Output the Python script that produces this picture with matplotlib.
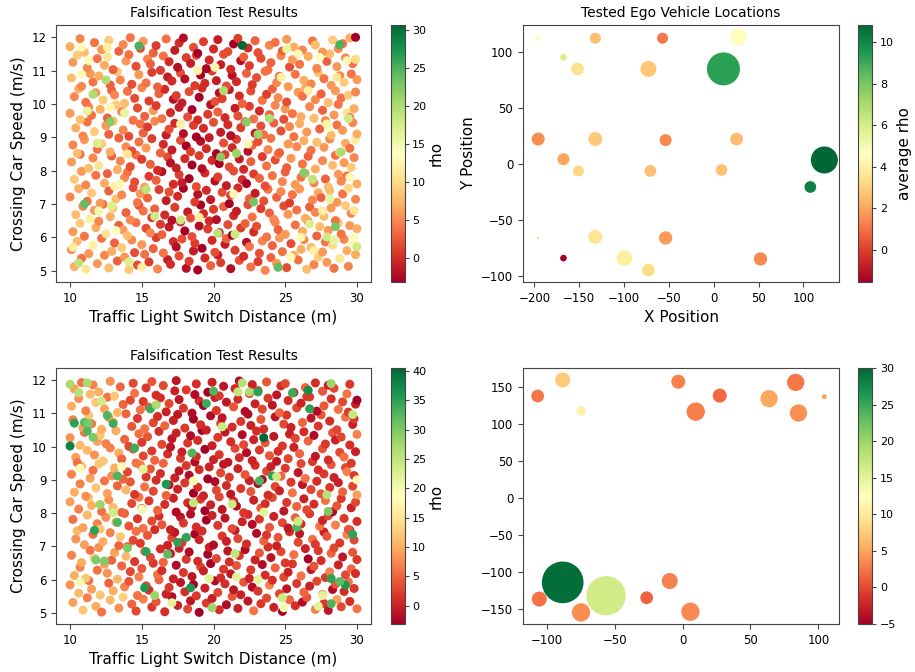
import numpy as np
import matplotlib
matplotlib.use("Agg")
import matplotlib.pyplot as plt

# ---- top left: falsification samples (x in 0.1 m, y in 0.01 m/s) ----
tl_x = [
    103, 108, 111, 119, 124, 127, 133, 138, 141, 147, 152, 155, 161, 168, 170, 176, 181, 183, 189, 194, 198, 203, 205, 212, 218, 221, 226, 231, 236, 240, 244, 251, 256, 259, 265, 270, 273, 279, 284, 288, 294, 299,
    101, 105, 113, 116, 122, 129, 131, 136, 143, 145, 150, 158, 160, 165, 172, 174, 178, 186, 187, 192, 199, 201, 208, 209, 215, 223, 225, 232, 234, 241, 246, 248, 254, 261, 263, 268, 276, 278, 283, 291, 293, 297,
    102, 107, 110, 118, 120, 125, 134, 137, 140, 146, 153, 156, 163, 164, 169, 177, 180, 185, 190, 196, 197, 204, 210, 213, 219, 222, 228, 230, 237, 243, 245, 250, 257, 262, 266, 272, 274, 280, 287, 289, 295, 300,
    104, 109, 114, 117, 123, 128, 130, 139, 142, 148, 151, 157, 159, 166, 171, 173, 182, 184, 191, 193, 200, 202, 207, 214, 216, 224, 227, 233, 239, 242, 249, 252, 258, 264, 267, 271, 277, 282, 285, 292, 296, 298,
    100, 106, 112, 115, 121, 127, 132, 136, 144, 147, 149, 154, 162, 167, 169, 175, 179, 187, 189, 195, 198, 206, 211, 212, 217, 225, 229, 235, 238, 244, 247, 253, 255, 260, 269, 273, 275, 281, 286, 290, 294, 299,
    103, 108, 111, 118, 124, 126, 131, 138, 140, 145, 152, 155, 160, 164, 172, 176, 178, 183, 188, 194, 201, 203, 209, 214, 220, 223, 228, 232, 236, 241, 248, 250, 257, 261, 264, 270, 278, 280, 287, 289, 293, 300,
    101, 107, 113, 116, 120, 129, 133, 135, 142, 146, 150, 156, 161, 168, 170, 174, 180, 185, 190, 192, 199, 204, 208, 211, 218, 221, 226, 234, 237, 243, 245, 251, 254, 262, 266, 271, 276, 283, 285, 291, 296, 298,
    102, 105, 110, 119, 122, 128, 134, 139, 143, 148, 153, 157, 163, 165, 171, 177, 181, 184, 191, 195, 197, 202, 207, 213, 216, 224, 227, 231, 238, 240, 246, 252, 258, 263, 268, 272, 277, 281, 288, 292, 295, 299,
    104, 109, 112, 117, 125, 127, 130, 137, 141, 149, 151, 154, 159, 167, 169, 173, 179, 186, 188, 193, 200, 205, 210, 212, 219, 222, 229, 233, 235, 242, 247, 253, 256, 260, 265, 274, 278, 282, 286, 290, 297, 300,
    100, 107, 113, 115, 121, 126, 132, 136, 144, 147, 152, 158, 160, 164, 170, 176, 182, 185, 189, 196, 198, 203, 208, 215, 217, 225, 228, 232, 239, 243, 249, 250, 255, 261, 267, 270, 276, 284, 287, 293, 295, 298,
    103, 106, 111, 118, 123, 129, 131, 138, 140, 145, 150, 155, 162, 166, 172, 174, 178, 183, 190, 192, 201, 204, 206, 211, 218, 220, 226, 234, 237, 241, 245, 251, 259, 262, 264, 271, 275, 280, 285, 289, 294, 299,
    101, 108, 114, 116, 120, 128, 133, 135, 143, 148, 153, 157, 161, 168, 171, 177, 180, 187, 191, 194, 199, 202, 209, 213, 216, 223, 227, 230, 236, 244, 246, 252, 257, 263, 268, 273, 277, 282, 288, 291, 296, 300,
    102, 105, 112, 119, 124, 126, 130, 139, 141, 146, 154, 156, 163, 165, 169, 175, 181, 184, 188, 195, 197, 205, 207, 212, 219, 221, 225, 233, 238, 240, 247, 253, 255, 260, 266, 272, 279, 281, 286, 292, 297, 299,
    100, 107, 110, 117, 122, 127, 134, 137, 142, 149, 151, 158, 160, 167, 173, 176, 179, 186, 189, 193, 200, 203, 210, 214, 217, 224, 229, 231, 239, 243, 248, 251, 256, 262, 269, 271, 276, 283, 287, 290, 295, 299,
    102, 108, 113, 126, 132, 135, 140, 150, 189, 259, 266, 274, 286, 293, 280, 261, 276, 298, 254, 214, 190, 224, 247, 177, 108, 128, 295, 270,
    148, 220, 288, 125, 116, 207, 128, 223, 239, 231, 216, 205, 289, 294, 269, 112, 110, 153, 228, 263, 281, 177, 159, 203, 215, 267, 285, 279, 284, 245, 141, 106, 129, 120, 251, 300, 138, 119, 201, 279,
]
tl_y = [
    512, 537, 504, 521, 546, 508, 529, 541, 503, 517, 549, 526, 505, 533, 519, 544, 507, 528, 502, 538, 515, 547, 524, 506, 531, 543, 511, 527, 501, 539, 522, 509, 546, 532, 504, 518, 541, 525, 507, 536, 513, 548,
    563, 588, 551, 576, 597, 558, 583, 569, 592, 554, 578, 566, 599, 553, 587, 571, 595, 559, 582, 567, 591, 555, 579, 596, 561, 585, 572, 552, 589, 575, 598, 557, 581, 564, 593, 570, 556, 586, 577, 594, 560, 584,
    617, 642, 603, 629, 648, 611, 636, 622, 605, 644, 627, 613, 639, 608, 631, 646, 619, 602, 634, 625, 649, 614, 638, 606, 628, 641, 616, 633, 601, 645, 623, 609, 637, 618, 647, 604, 632, 621, 643, 610, 635, 626,
    668, 693, 655, 681, 699, 662, 687, 674, 652, 696, 679, 659, 685, 667, 651, 690, 676, 658, 697, 671, 684, 653, 692, 665, 678, 698, 661, 686, 673, 654, 694, 669, 682, 657, 691, 675, 663, 688, 650, 695, 672, 680,
    721, 746, 708, 733, 702, 739, 715, 727, 749, 704, 731, 718, 743, 710, 736, 723, 747, 706, 729, 741, 713, 735, 701, 726, 748, 716, 732, 709, 744, 720, 737, 703, 728, 745, 712, 734, 719, 740, 705, 730, 747, 714,
    774, 798, 757, 786, 762, 791, 753, 779, 795, 766, 750, 783, 771, 797, 759, 788, 764, 776, 752, 793, 769, 781, 755, 799, 773, 761, 790, 777, 754, 785, 767, 796, 758, 780, 792, 763, 775, 751, 789, 768, 784, 760,
    826, 849, 807, 838, 815, 844, 803, 829, 812, 847, 834, 819, 801, 841, 823, 808, 836, 817, 845, 806, 831, 821, 848, 811, 835, 804, 827, 842, 814, 832, 849, 809, 837, 820, 843, 805, 830, 816, 846, 824, 810, 839,
    877, 852, 893, 864, 881, 856, 898, 871, 859, 886, 868, 896, 853, 879, 862, 891, 874, 857, 888, 866, 899, 851, 883, 869, 894, 858, 876, 887, 863, 897, 854, 880, 872, 890, 861, 885, 870, 895, 855, 882, 867, 892,
    928, 904, 946, 917, 935, 909, 949, 922, 903, 940, 913, 931, 948, 907, 924, 942, 911, 936, 901, 927, 945, 915, 938, 905, 929, 947, 912, 934, 908, 943, 919, 932, 902, 941, 916, 925, 950, 906, 937, 921, 944, 910,
    972, 953, 991, 966, 984, 958, 997, 977, 951, 988, 963, 980, 995, 956, 974, 990, 961, 983, 952, 969, 998, 976, 959, 987, 964, 993, 955, 979, 968, 996, 954, 985, 971, 962, 992, 957, 981, 967, 999, 973, 960, 986,
    1022, 1046, 1005, 1034, 1012, 1041, 1027, 1002, 1038, 1017, 1049, 1009, 1031, 1044, 1014, 1025, 1003, 1037, 1020, 1048, 1007, 1033, 1016, 1043, 1024, 1001, 1039, 1011, 1029, 1045, 1019, 1006, 1035, 1023, 1047, 1013, 1030, 1004, 1040, 1018, 1026, 1036,
    1078, 1053, 1091, 1066, 1084, 1057, 1097, 1072, 1059, 1088, 1063, 1095, 1051, 1081, 1069, 1093, 1075, 1055, 1087, 1062, 1099, 1070, 1054, 1086, 1067, 1092, 1058, 1079, 1098, 1064, 1083, 1052, 1089, 1071, 1060, 1094, 1076, 1056, 1085, 1065, 1090, 1073,
    1125, 1147, 1108, 1136, 1116, 1142, 1103, 1129, 1148, 1113, 1135, 1120, 1101, 1144, 1127, 1110, 1139, 1122, 1146, 1106, 1132, 1118, 1149, 1104, 1130, 1141, 1115, 1137, 1102, 1124, 1145, 1111, 1133, 1119, 1143, 1107, 1128, 1150, 1112, 1138, 1121, 1134,
    1172, 1196, 1155, 1184, 1163, 1191, 1158, 1178, 1199, 1167, 1188, 1153, 1175, 1195, 1161, 1183, 1198, 1170, 1152, 1187, 1165, 1193, 1157, 1180, 1197, 1168, 1190, 1154, 1176, 1185, 1159, 1194, 1171, 1162, 1189, 1177, 1156, 1192, 1166, 1181, 1198, 1200,
    570, 1090, 1130, 1170, 620, 760, 850, 510, 1100, 1150, 1040, 1140, 1080, 1130, 930, 600, 680, 600, 540, 730, 660, 880, 1080, 940, 1170, 990, 780, 560,
    1174, 1176, 1178, 1072, 1029, 1040, 947, 946, 957, 909, 852, 841, 856, 956, 774, 979, 700, 744, 706, 794, 715, 652, 663, 612, 609, 640, 632, 601, 591, 510, 526, 523, 695, 679, 1165, 572, 973, 882, 1110, 940,
]
tl_rho = [
    7, 4, 11, 6, 5, 8, 3, 6, 9, 2, 4, 1, 5, -1, 0, 2, -2, 1, -3, 0, 3, -1, 1, -2, 2, 0, 4, 1, 5, 3, 6, 2, 7, 4, 8, 5, 9, 6, 4, 11, 5, 7,
    5, 8, 6, 12, 4, 7, 3, 9, 5, 2, 6, 3, 1, 4, 0, -2, 2, -1, 1, -3, 0, 2, -1, 3, 1, -2, 4, 2, 5, 3, 6, 4, 2, 7, 5, 8, 6, 4, 10, 5, 7, 13,
    6, 9, 4, 7, 5, 11, 3, 6, 8, 4, 2, 5, 1, 3, -1, 0, -3, 2, -2, 1, 0, -1, 2, -3, 1, 3, 0, 2, 4, 5, 3, 6, 4, 7, 5, 3, 8, 6, 9, 4, 6, 7,
    8, 5, 12, 6, 4, 7, 9, 3, 5, 2, 4, 1, 3, 0, -2, 1, -1, 2, -3, 0, 1, -2, 3, 0, -1, 2, 4, 1, 3, 5, 2, 6, 4, 7, 3, 5, 8, 6, 4, 9, 5, 11,
    5, 7, 4, 9, 6, 3, 8, 5, 2, 4, 6, 3, 1, -1, 2, 0, -3, 1, -2, 0, -1, 2, -3, 1, 0, 3, -1, 2, 4, 3, 5, 1, 4, 6, 5, 7, 3, 8, 6, 4, 10, 5,
    9, 6, 5, 4, 7, 3, 12, 5, 4, 2, 6, 1, 3, -2, 0, 1, -1, -3, 2, 0, -2, 1, -1, 2, 0, -3, 1, 3, 2, 4, 5, 3, 6, 4, 7, 5, 3, 8, 6, 5, 4, 7,
    6, 4, 8, 5, 11, 3, 7, 5, 2, 4, 1, 3, 0, 2, -2, -1, 0, -3, 1, -2, 0, -3, 1, 2, -1, 0, 3, 1, 4, 2, 5, 3, 6, 4, 3, 7, 5, 8, 4, 6, 9, 5,
    5, 8, 6, 4, 9, 7, 3, 5, 2, 4, 6, 1, 3, 0, -1, 2, -3, 1, -2, 0, -1, -3, 2, 0, 1, -2, 3, 2, 5, 4, 3, 6, 5, 7, 4, 8, 6, 5, 9, 7, 4, 12,
    7, 5, 4, 9, 6, 3, 8, 5, 2, 4, 3, 1, 5, -1, 2, 0, -2, 1, -3, 0, 2, -1, 0, -2, 1, 3, -1, 2, 4, 3, 2, 5, 4, 7, 6, 3, 5, 8, 4, 6, 5, 7,
    6, 8, 5, 4, 7, 3, 9, 5, 4, 2, 3, 6, 1, 4, 0, -1, 2, -3, 0, 1, -2, 3, 0, -1, 2, 1, 4, 0, 3, 5, 2, 6, 4, 7, 5, 8, 3, 6, 4, 11, 5, 7,
    5, 7, 4, 6, 9, 3, 5, 8, 4, 2, 5, 1, 3, 0, -2, 1, -1, 2, -3, 0, 2, -2, 1, -1, 0, 3, 2, 4, 1, 3, 5, 2, 6, 4, 7, 5, 3, 8, 6, 4, 9, 5,
    8, 5, 6, 4, 7, 3, 9, 5, 2, 6, 4, 1, 3, -1, 0, 2, -2, 1, -3, 0, 1, -1, 2, -2, 0, 3, 1, 2, 4, 5, 3, 6, 4, 7, 5, 8, 4, 6, 5, 9, 4, 6,
    6, 9, 5, 4, 7, 11, 3, 6, 4, 2, 5, 3, 1, 4, 0, -2, 1, -1, 2, -3, 0, -1, 2, 0, -2, 3, 1, 2, 4, 3, 5, 2, 6, 4, 7, 5, 3, 8, 6, 5, 4, 10,
    7, 5, 8, 4, 6, 9, 3, 5, 4, 2, 6, 3, 1, 4, -1, 0, -2, 2, -3, 1, 0, -1, 2, -3, 1, 0, 3, 2, 5, 4, 3, 6, 7, 5, 4, 8, 6, 9, 5, 4, 7, -3.1,
    12, 13, 13, 12, 14, 13, 11, 12, 12, 13, 12, 14, 11, 13, 14, 13, 12, 14, 13, 13, 12, 13, 12, 12, 13, 13, 13, 12,
    25, 30.7, 25, 20, 20, 20, 22, 22, 20, 21, 21, 22, 20, 18, 19, 16, 24, 19, 23, 22, 16, 18, 18, 19, 18, 17, 23, 18, 16, 24, 17, 19, 17, 15, 16, 18, 16, 17, 15, 15,
]

# ---- bottom left: second falsification run ----
bl_x = [
    102, 109, 112, 118, 122, 128, 134, 137, 143, 146, 151, 157, 160, 166, 171, 175, 182, 184, 190, 195, 199, 204, 209, 213, 217, 224, 228, 233, 237, 242, 248, 253, 257, 262, 265, 271, 277, 280, 286, 289, 295, 300,
    100, 106, 113, 115, 121, 127, 130, 138, 141, 147, 153, 155, 162, 167, 169, 177, 180, 186, 188, 194, 201, 203, 208, 214, 219, 221, 227, 231, 239, 241, 246, 251, 258, 263, 267, 272, 276, 283, 285, 291, 294, 298,
    103, 107, 111, 119, 124, 126, 133, 136, 142, 148, 150, 158, 161, 164, 172, 174, 179, 185, 191, 193, 198, 205, 207, 212, 216, 225, 226, 234, 236, 243, 249, 252, 255, 261, 268, 270, 278, 281, 287, 292, 296, 299,
    101, 108, 114, 117, 120, 129, 131, 139, 140, 145, 152, 156, 163, 165, 170, 176, 181, 183, 189, 196, 197, 202, 210, 211, 218, 222, 229, 232, 238, 240, 247, 250, 256, 264, 266, 273, 275, 282, 284, 290, 297, 300,
    104, 105, 110, 116, 123, 128, 134, 135, 144, 146, 149, 154, 159, 168, 171, 173, 178, 187, 190, 192, 200, 206, 209, 215, 217, 223, 230, 235, 237, 244, 245, 253, 259, 260, 269, 271, 277, 279, 288, 293, 295, 298,
    102, 109, 112, 119, 121, 125, 132, 138, 141, 147, 151, 157, 162, 164, 170, 177, 179, 184, 188, 195, 199, 203, 208, 213, 220, 224, 227, 232, 239, 242, 248, 252, 257, 261, 267, 274, 276, 280, 285, 291, 294, 300,
    100, 106, 113, 115, 122, 127, 130, 136, 143, 148, 150, 155, 161, 166, 172, 174, 182, 185, 191, 194, 198, 204, 206, 214, 216, 221, 228, 233, 236, 241, 249, 251, 258, 263, 265, 270, 278, 283, 286, 289, 296, 299,
    103, 107, 111, 118, 124, 126, 133, 139, 142, 145, 152, 158, 160, 167, 169, 175, 180, 186, 189, 193, 201, 202, 209, 212, 219, 225, 226, 231, 238, 243, 246, 254, 255, 262, 268, 272, 275, 281, 287, 290, 297, 300,
    101, 108, 114, 116, 120, 129, 131, 137, 140, 149, 153, 156, 163, 165, 173, 176, 181, 183, 190, 196, 197, 205, 207, 211, 217, 222, 229, 234, 237, 240, 247, 250, 259, 261, 264, 273, 277, 282, 284, 292, 293, 298,
    104, 105, 112, 117, 123, 128, 134, 136, 144, 146, 151, 157, 159, 168, 170, 177, 178, 187, 188, 194, 200, 204, 210, 215, 218, 223, 227, 232, 239, 244, 245, 252, 256, 260, 269, 271, 276, 280, 288, 291, 296, 299,
    100, 107, 110, 119, 121, 125, 132, 138, 141, 148, 150, 154, 162, 164, 171, 174, 182, 184, 189, 192, 199, 203, 208, 212, 220, 221, 228, 230, 236, 242, 248, 253, 257, 263, 266, 270, 278, 283, 285, 289, 295, 300,
    102, 109, 113, 115, 122, 127, 130, 139, 143, 147, 152, 158, 161, 166, 172, 175, 180, 186, 191, 195, 198, 205, 206, 213, 219, 224, 226, 233, 235, 243, 249, 251, 254, 262, 268, 273, 275, 281, 286, 292, 297, 298,
    101, 106, 111, 118, 124, 126, 133, 137, 142, 149, 151, 155, 163, 167, 169, 176, 179, 185, 190, 193, 201, 202, 209, 214, 217, 222, 229, 234, 238, 241, 246, 252, 258, 261, 267, 272, 277, 282, 287, 290, 294, 299,
    103, 108, 114, 116, 120, 128, 131, 135, 144, 145, 153, 157, 160, 165, 173, 174, 181, 187, 188, 196, 199, 204, 207, 215, 218, 225, 227, 231, 237, 244, 247, 250, 256, 264, 265, 271, 276, 280, 284, 293, 295, 300,
    100, 103, 110, 113, 112, 116, 100, 126, 130, 133, 133, 117, 152, 156, 145, 167, 175, 184, 181, 195, 200, 225, 231, 255, 266, 267, 235, 241, 232, 280, 297, 258, 282, 282, 292, 288, 168, 153, 140, 118, 124,
    185, 217, 297, 282, 220, 112, 106, 122, 160, 244, 259, 279, 235, 213, 186, 197, 216, 231, 249, 276, 273, 248, 199, 159, 171, 107, 121, 130, 136, 151, 186, 206, 107, 150, 215, 300,
]
bl_y = [
    531, 508, 545, 519, 502, 538, 514, 547, 526, 505, 541, 517, 533, 503, 548, 522, 511, 536, 501, 529, 543, 509, 524, 549, 513, 535, 506, 527, 544, 516, 504, 539, 521, 532, 546, 510, 528, 507, 540, 518, 534, 512,
    584, 559, 597, 571, 553, 589, 566, 578, 594, 552, 581, 568, 599, 556, 576, 591, 563, 585, 551, 574, 596, 561, 587, 569, 554, 592, 577, 565, 583, 598, 557, 572, 588, 562, 580, 595, 555, 570, 586, 564, 593, 573,
    612, 637, 604, 628, 646, 619, 601, 641, 624, 608, 633, 649, 615, 627, 602, 643, 621, 609, 638, 626, 648, 605, 631, 617, 642, 603, 629, 645, 613, 635, 607, 622, 647, 611, 630, 640, 606, 623, 644, 614, 632, 618,
    673, 651, 688, 664, 696, 658, 681, 670, 699, 654, 685, 667, 692, 652, 678, 694, 661, 683, 655, 676, 697, 663, 686, 653, 672, 690, 659, 680, 698, 666, 684, 650, 675, 693, 662, 687, 657, 679, 695, 668, 682, 660,
    722, 747, 705, 736, 714, 741, 702, 729, 718, 745, 709, 733, 750, 703, 726, 742, 711, 737, 720, 746, 704, 731, 715, 748, 723, 707, 739, 716, 734, 701, 727, 744, 712, 738, 721, 706, 743, 730, 710, 735, 749, 719,
    781, 756, 794, 768, 752, 787, 773, 799, 761, 783, 754, 776, 791, 765, 750, 788, 770, 797, 758, 779, 793, 763, 785, 753, 774, 796, 766, 782, 757, 790, 771, 755, 786, 767, 798, 760, 778, 792, 764, 784, 751, 775,
    834, 812, 846, 823, 805, 840, 817, 802, 829, 848, 814, 837, 808, 826, 845, 803, 831, 819, 842, 807, 825, 849, 811, 836, 821, 801, 839, 815, 828, 847, 806, 832, 820, 843, 810, 827, 838, 804, 822, 844, 816, 833,
    863, 888, 851, 876, 897, 859, 882, 870, 894, 856, 879, 866, 899, 853, 885, 872, 891, 860, 878, 852, 895, 869, 883, 857, 874, 898, 865, 889, 854, 880, 867, 893, 861, 886, 871, 896, 858, 877, 892, 864, 881, 855,
    917, 941, 905, 929, 948, 912, 936, 902, 924, 945, 909, 933, 919, 950, 906, 927, 943, 914, 931, 903, 939, 921, 947, 908, 934, 916, 944, 901, 926, 940, 911, 935, 922, 949, 904, 930, 918, 946, 907, 937, 925, 913,
    968, 952, 989, 975, 957, 996, 981, 963, 993, 951, 972, 987, 959, 978, 999, 965, 984, 954, 970, 992, 961, 976, 953, 995, 967, 982, 958, 990, 973, 956, 986, 964, 998, 979, 955, 971, 994, 960, 983, 969, 950, 985,
    1027, 1004, 1043, 1016, 1035, 1009, 1048, 1022, 1001, 1039, 1013, 1030, 1046, 1007, 1024, 1041, 1011, 1033, 1019, 1049, 1003, 1028, 1044, 1015, 1036, 1006, 1021, 1047, 1012, 1031, 1002, 1038, 1025, 1045, 1017, 1034, 1008, 1042, 1020, 1029, 1005, 1037,
    1081, 1057, 1094, 1069, 1052, 1088, 1075, 1099, 1061, 1085, 1054, 1072, 1091, 1063, 1079, 1097, 1056, 1083, 1066, 1050, 1093, 1070, 1087, 1059, 1076, 1098, 1064, 1082, 1053, 1090, 1068, 1095, 1058, 1073, 1086, 1062, 1096, 1077, 1051, 1089, 1067, 1084,
    1122, 1145, 1108, 1133, 1114, 1149, 1103, 1127, 1140, 1111, 1136, 1119, 1147, 1105, 1130, 1142, 1116, 1101, 1138, 1124, 1148, 1109, 1134, 1120, 1143, 1106, 1129, 1113, 1146, 1125, 1102, 1139, 1117, 1131, 1150, 1107, 1123, 1144, 1112, 1135, 1104, 1128,
    1174, 1193, 1158, 1186, 1165, 1197, 1152, 1180, 1191, 1161, 1177, 1196, 1155, 1184, 1168, 1199, 1171, 1157, 1189, 1164, 1194, 1153, 1182, 1175, 1198, 1160, 1187, 1169, 1195, 1156, 1183, 1190, 1163, 1178, 1151, 1192, 1167, 1185, 1176, 1159, 1188, 1140,
    1188, 1071, 1073, 1070, 1047, 1028, 1002, 1094, 1070, 912, 772, 748, 575, 1114, 996, 887, 712, 575, 727, 1130, 1167, 1165, 1165, 1162, 1170, 1114, 1027, 912, 897, 805, 736, 757, 527, 603, 583, 594, 676, 684, 695, 659, 656,
    981, 1165, 1097, 1190, 1192, 1192, 1163, 1137, 1126, 910, 775, 855, 803, 827, 831, 603, 608, 600, 515, 552, 520, 545, 515, 552, 530, 592, 826, 802, 940, 932, 897, 1060, 935, 812, 678, 900,
]
bl_rho = [
    9, 12, 7, 10, 6, 11, 8, 13, 5, 3, 7, 2, 4, 1, -2, 0, 3, -1, -3, 2, 0, 1, -2, 4, 0, -1, 6, 2, 3, 0, -3, 5, 1, -2, 4, 7, 2, -1, 9, 3, 1, 6,
    8, 11, 6, 9, 12, 5, 10, 7, 4, 6, 3, 1, 5, 0, 2, -1, 1, -3, 2, 0, -2, 3, 1, -1, 0, 4, -2, 2, 7, 1, 3, -1, 2, 5, 0, 3, 8, -2, 4, 1, 6, 2,
    10, 7, 12, 6, 9, 8, 11, 5, 3, 7, 4, 2, 6, 1, 0, -2, 2, -1, 3, 0, -3, 1, 2, -1, 4, 0, 2, -2, 1, 5, 3, 0, 2, 6, -1, 4, 2, 7, 0, 3, 5, 1,
    7, 10, 6, 12, 8, 5, 9, 11, 4, 2, 6, 3, 1, 5, -1, 0, 2, -2, 1, -3, 0, 3, -1, 1, 2, -2, 0, 4, 1, -1, 3, 2, 6, 0, -3, 2, 1, 5, 3, -1, 4, 2,
    8, 11, 9, 6, 10, 7, 5, 12, 3, 6, 2, 4, 1, 0, 3, -1, 2, -3, 0, 1, -2, 2, 0, -1, 3, 1, -2, 5, 2, 0, 4, 1, 3, -1, 6, 2, 0, 4, 2, 7, 1, 3,
    6, 9, 11, 7, 12, 8, 10, 5, 4, 2, 6, 3, 1, 4, 0, -1, 2, -2, 1, -3, 0, 2, -1, 3, 0, 1, -2, 2, 4, 0, 3, -1, 5, 1, 2, 6, 0, 3, 7, 2, 4, 1,
    9, 7, 12, 10, 6, 8, 11, 5, 3, 6, 4, 2, 5, 1, 0, -2, 1, -1, 2, -3, 0, 3, -1, 1, -2, 2, 0, 4, 1, 3, -1, 2, 5, 0, 3, 1, 6, -2, 4, 2, 0, 3,
    10, 7, 8, 12, 6, 9, 5, 11, 4, 2, 6, 3, 1, 5, -1, 0, 2, -3, 1, 0, -2, 3, 1, -1, 2, 0, 4, -2, 1, 3, 0, 2, 6, -1, 3, 1, 4, 2, 0, 5, 3, 9,
    7, 11, 9, 6, 12, 8, 10, 5, 3, 7, 2, 4, 1, 5, 0, -1, 2, -2, 1, -3, 0, 3, -1, 2, 0, 4, 1, -2, 3, 0, 5, 2, -1, 3, 6, 1, 2, 4, 0, 3, 7, 2,
    9, 6, 11, 8, 12, 7, 10, 5, 4, 6, 3, 2, 5, 1, -1, 2, 0, -2, 1, -3, 0, 2, -1, 3, 1, -2, 0, 2, 4, -1, 1, 3, 0, 5, 2, -1, 4, 1, 3, 6, 2, 0,
    8, 11, 6, 9, 12, 7, 10, 5, 3, 6, 2, 4, 1, 3, -1, 0, 2, -2, 1, -3, 0, 2, -1, 1, -2, 3, 0, 1, 4, -1, 2, 0, 3, 1, 5, -2, 2, 4, 0, 3, 1, 7,
    7, 9, 12, 6, 10, 8, 11, 5, 4, 2, 6, 3, 1, 5, 0, -1, 2, -3, 1, 0, -2, 3, -1, 1, 2, -2, 0, 4, 1, -1, 3, 2, 0, 5, -1, 2, 4, 1, 3, 6, 0, 2,
    10, 8, 7, 12, 9, 6, 11, 5, 3, 6, 2, 4, 1, 0, 3, -1, 2, -2, 1, -3, 0, 2, -1, 4, 1, -2, 0, 3, 2, -1, 5, 1, 3, 0, 2, -2, 4, 1, 6, 3, 2, 0,
    9, 6, 11, 7, 10, 8, 12, 5, 3, 6, 2, 4, 1, 3, 0, -1, 2, -2, 1, -3, 0, 2, -1, 1, -2, 3, 0, 2, 4, -1, 1, 3, 0, 5, 2, 1, 4, 0, 3, 6, 2, -3.1,
    27, 35, 32, 30, 33, 30, 38, 33, 34, 33, 33, 35, 36, 34, 34, 36, 35, 36, 35, 34, 33, 27, 35, 34, 37, 35, 40.5, 35, 33, 30, 35, 33, 33, 35, 36, 32, 32, 35, 30, 30, 30,
    33, 25, 25, 28, 26, 27, 26, 24, 27, 24, 24, 26, 22, 24, 25, 22, 22, 22, 20, 22, 22, 24, 28, 28, 22, 20, 28, 24, 18, 22, 20, 24, 20, 20, 25, 18,
]

# ---- top right: tested ego vehicle locations ----
ego_x = [-195.7, -132, -57, 27.5, -167.5, -151.9, -72.7, 10.9, -195.7, -132, -53.6, 25.6, -167.5,
         -150.8, -70.5, 8.7, 123.4, 107.8, -195.7, -132, -53.6, -167.5, -99.5, -72.7, 52.2]
ego_y = [112.2, 112, 112, 113, 95, 84.6, 84.6, 84.6, 22, 22, 21, 22, 4,
         -6.5, -6.5, -5.6, 3.3, -20.8, -66.5, -65.4, -66.3, -84.3, -84.3, -95, -85]
ego_rho = [4.8, 2.6, 1.2, 4.6, 5.9, 3.5, 2.8, 9.3, 1.6, 2.9, 1.5, 2.5, 2.0,
           3.2, 2.6, 2.7, 10.83, 10.2, 6.5, 3.6, 1.8, -1.54, 4.0, 3.3, 1.5]
ego_size = [13, 63, 63, 150, 23, 84, 133, 565, 88, 102, 75, 84, 75,
            63, 71, 71, 378, 71, 2, 102, 92, 23, 128, 84, 92]

# ---- bottom right: second location set ----
loc_x = [-106.6, -88.2, -74.7, -3.1, 27.4, 9.7, 63.7, 83.3, 85.3, 104.4,
         -88.2, -56.3, -105.4, -74.7, -26.4, -9.4, 5.8]
loc_y = [137.4, 159, 117.2, 156.7, 137.9, 116.3, 133.8, 155.8, 114.5, 136.5,
         -114, -132, -136.5, -154.5, -134.7, -112.2, -153.6]
loc_rho = [2.5, 7.5, 11, 3.2, 1.8, 3, 5.2, 2.6, 4, 5,
           29.5, 16.5, 2.3, 3.8, 1.5, 3.2, 3.5]
loc_size = [84, 117, 45, 102, 102, 174, 155, 155, 155, 13,
            901, 800, 117, 174, 84, 133, 174]

TITLE = 10
LABEL = 11
TICK = 8.5
CB_TICK = 8
spine_col = '#444444'

fig = plt.figure(figsize=(9.15, 6.72), dpi=100)


def style(ax):
    for sp in ax.spines.values():
        sp.set_color(spine_col)
    ax.tick_params(labelsize=TICK, color=spine_col)


def add_cbar(sc, rect, ticks, label=None):
    cax = fig.add_axes(rect)
    cb = fig.colorbar(sc, cax=cax, ticks=ticks)
    cb.outline.set_edgecolor(spine_col)
    cb.ax.tick_params(labelsize=CB_TICK, color=spine_col, length=3, pad=2.5)
    if label:
        cb.set_label(label, fontsize=LABEL, labelpad=2)
    return cb


# top left
ax1 = fig.add_axes([0.0612, 0.5804, 0.3443, 0.3824])
sc1 = ax1.scatter(np.array(tl_x) / 10, np.array(tl_y) / 100, c=tl_rho, cmap='RdYlGn',
                  s=42, linewidths=0)
ax1.set_xlim(9.02, 30.98)
ax1.set_ylim(4.66, 12.37)
ax1.set_xticks([10, 15, 20, 25, 30])
ax1.set_yticks([5, 6, 7, 8, 9, 10, 11, 12])
ax1.set_title('Falsification Test Results', fontsize=TITLE)
ax1.set_xlabel('Traffic Light Switch Distance (m)', fontsize=LABEL)
ax1.set_ylabel('Crossing Car Speed (m/s)', fontsize=LABEL)
style(ax1)
add_cbar(sc1, [0.4273, 0.5804, 0.0148, 0.3824], [0, 5, 10, 15, 20, 25, 30], 'rho')

# bottom left
ax2 = fig.add_axes([0.0612, 0.0714, 0.3443, 0.381])
sc2 = ax2.scatter(np.array(bl_x) / 10, np.array(bl_y) / 100, c=bl_rho, cmap='RdYlGn',
                  s=42, linewidths=0)
ax2.set_xlim(9.02, 30.98)
ax2.set_ylim(4.66, 12.37)
ax2.set_xticks([10, 15, 20, 25, 30])
ax2.set_yticks([5, 6, 7, 8, 9, 10, 11, 12])
ax2.set_title('Falsification Test Results', fontsize=TITLE)
ax2.set_xlabel('Traffic Light Switch Distance (m)', fontsize=LABEL)
ax2.set_ylabel('Crossing Car Speed (m/s)', fontsize=LABEL)
style(ax2)
add_cbar(sc2, [0.4273, 0.0714, 0.0148, 0.381], [0, 5, 10, 15, 20, 25, 30, 35, 40], 'rho')

# top right
ax3 = fig.add_axes([0.5716, 0.5804, 0.3454, 0.3824])
sc3 = ax3.scatter(ego_x, ego_y, s=ego_size, c=ego_rho, cmap='RdYlGn', linewidths=0)
ax3.set_xlim(-212.6, 139.8)
ax3.set_ylim(-105.6, 123.8)
ax3.set_xticks([-200, -150, -100, -50, 0, 50, 100])
ax3.set_yticks([-100, -50, 0, 50, 100])
ax3.set_title('Tested Ego Vehicle Locations', fontsize=TITLE)
ax3.set_xlabel('X Position', fontsize=LABEL)
ax3.set_ylabel('Y Position', fontsize=LABEL)
style(ax3)
add_cbar(sc3, [0.9377, 0.5804, 0.0155, 0.3824], [0, 2, 4, 6, 8, 10], 'average rho')

# bottom right
ax4 = fig.add_axes([0.5716, 0.0714, 0.3454, 0.381])
sc4 = ax4.scatter(loc_x, loc_y, s=loc_size, c=loc_rho, cmap='RdYlGn', vmin=-5, vmax=30,
                  linewidths=0)
ax4.set_xlim(-117.4, 115.2)
ax4.set_ylim(-170.2, 175.2)
ax4.set_xticks([-100, -50, 0, 50, 100])
ax4.set_yticks([-150, -100, -50, 0, 50, 100, 150])
style(ax4)
add_cbar(sc4, [0.9377, 0.0714, 0.0155, 0.381], [-5, 0, 5, 10, 15, 20, 25, 30])

fig.savefig('out.png', dpi=100)
